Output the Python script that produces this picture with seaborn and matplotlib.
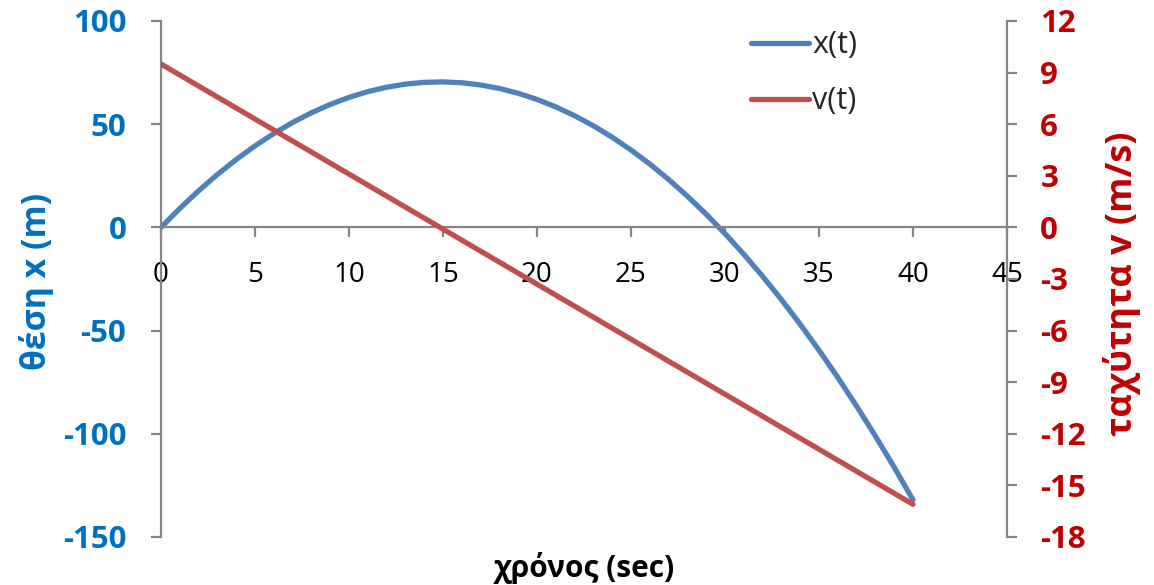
import numpy as np
import pandas as pd
import seaborn as sns
import matplotlib.pyplot as plt

# values
t_sec = list(range(0, 41))
x_pos = [0, 9.18, 17.72, 25.62, 32.88, 39.5, 45.48, 50.82, 55.52, 59.58, 63.0,
         65.78, 67.92, 69.42, 70.28, 70.5, 70.08, 69.02, 67.32, 64.98, 62.0,
         58.38, 54.12, 49.22, 43.68, 37.5, 30.68, 23.22, 15.12, 6.38, -3.0,
         -13.02, -23.68, -34.98, -46.92, -59.5, -72.72, -86.58, -101.08, -116.22, -132.0]
v_vel = [9.5, 8.86, 8.22, 7.58, 6.94, 6.3, 5.66, 5.02, 4.38, 3.74, 3.1,
         2.46, 1.82, 1.18, 0.54, -0.1, -0.74, -1.38, -2.02, -2.66, -3.3,
         -3.94, -4.58, -5.22, -5.86, -6.5, -7.14, -7.78, -8.42, -9.06, -9.7,
         -10.34, -10.98, -11.62, -12.26, -12.9, -13.54, -14.18, -14.82, -15.46, -16.1]
x_ticks = [0, 5, 10, 15, 20, 25, 30, 35, 40, 45]
left_ticks = [-150, -100, -50, 0, 50, 100]
right_ticks = [-18, -15, -12, -9, -6, -3, 0, 3, 6, 9, 12]

df = pd.DataFrame({'t': t_sec, 'x': x_pos, 'v': v_vel})

sns.set_style('white')
plt.rcParams['font.family'] = ['Open Sans', 'Noto Sans', 'DejaVu Sans']
plt.rcParams['axes.unicode_minus'] = False

blue_line = '#4F81BD'
red_line = '#C0504D'
blue_txt = '#0070C0'
red_txt = '#C00000'
grey = '#868686'

fig, ax = plt.subplots(figsize=(11.54, 5.85), dpi=100)
fig.subplots_adjust(left=161 / 1154, right=1007 / 1154, top=1 - 21 / 585, bottom=1 - 537 / 585)
ax2 = ax.twinx()

sns.lineplot(data=df, x='t', y='x', ax=ax, color=blue_line, linewidth=3.8,
             label='x(t)', legend=False, solid_capstyle='round')
sns.lineplot(data=df, x='t', y='v', ax=ax2, color=red_line, linewidth=3.8,
             label='v(t)', legend=False, solid_capstyle='round')

ax.set_xlim(0, 45)
ax.set_ylim(-150, 100)
ax2.set_ylim(-18, 12)
ax.set_xticks(x_ticks)
ax.set_xticklabels([str(v) for v in x_ticks])
ax.set_yticks(left_ticks)
ax.set_yticklabels([str(v) for v in left_ticks], fontweight='bold')
ax2.set_yticks(right_ticks)
ax2.set_yticklabels([str(v) for v in right_ticks], fontweight='bold')

for s in ['top', 'right']:
    ax.spines[s].set_visible(False)
ax.spines['bottom'].set_position(('data', 0))
for s in ['top', 'left', 'bottom']:
    ax2.spines[s].set_visible(False)
for sp in [ax.spines['left'], ax.spines['bottom'], ax2.spines['right']]:
    sp.set_color(grey)
    sp.set_linewidth(1.6)

ax.tick_params(axis='x', direction='out', length=7, width=1.6, color=grey,
               labelsize=20, labelcolor='black', pad=17, bottom=True)
ax.tick_params(axis='y', direction='out', length=7, width=1.6, color=grey,
               labelsize=22.5, labelcolor=blue_txt, pad=18, left=True)
ax2.tick_params(axis='y', direction='out', length=7, width=1.6, color=grey,
                labelsize=22.5, labelcolor=red_txt, pad=17, right=True)

ax.set_xlabel('χρόνος (sec)', fontsize=21.5, fontweight='bold', color='black')
ax.xaxis.set_label_coords(0.5, -0.03)
ax.set_ylabel('θέση x (m)', fontsize=25, fontweight='bold', color=blue_txt)
ax.yaxis.set_label_coords(-0.1265, 0.496)
ax2.set_ylabel('ταχύτητα v (m/s)', fontsize=25, fontweight='bold', color=red_txt,
               rotation=90)
ax2.yaxis.set_label_coords(1.1135, 0.49)
ax.grid(False)
ax2.grid(False)

# size the rotated axis titles to the lengths they have in the reference (px)
fig.canvas.draw()
rend = fig.canvas.get_renderer()
for lab, target in [(ax.yaxis.label, 178), (ax2.yaxis.label, 305)]:
    h = lab.get_window_extent(rend).height
    lab.set_fontsize(lab.get_fontsize() * target / h)

h1, l1 = ax.get_legend_handles_labels()
h2, l2 = ax2.get_legend_handles_labels()
ax2.legend(h1 + h2, l1 + l2, loc='upper left', bbox_to_anchor=(736 / 1154, 1 - 15 / 585),
           bbox_transform=fig.transFigure, frameon=False, fontsize=22,
           handlelength=1.9, handletextpad=0.1, labelspacing=0.85, borderpad=0)

fig.savefig('out.png', dpi=100)
